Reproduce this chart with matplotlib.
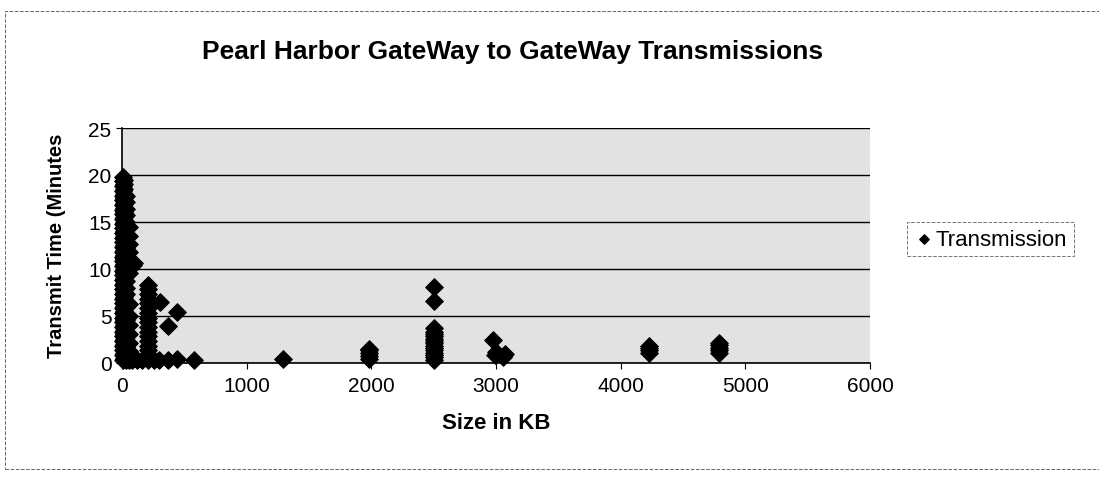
import matplotlib
matplotlib.use("Agg")
import matplotlib.pyplot as plt
from matplotlib.patches import Rectangle

plt.rcParams["font.family"] = ["Liberation Sans", "DejaVu Sans"]

# --- data (size in KB, transmit time in minutes) ---
# dense columns right at 0 KB
col0_x = [5] * 40
col0_y = [0.3, 0.8, 1.3, 1.8, 2.3, 2.8, 3.3, 3.8, 4.3, 4.8,
          5.3, 5.8, 6.3, 6.8, 7.3, 7.8, 8.3, 8.8, 9.3, 9.8,
          10.3, 10.8, 11.3, 11.8, 12.3, 12.8, 13.3, 13.8, 14.3, 14.8,
          15.3, 15.8, 16.3, 16.8, 17.3, 17.8, 18.3, 18.8, 19.3, 19.8]
col15_x = [15] * 39
col15_y = [0.5, 1.0, 1.5, 2.0, 2.5, 3.0, 3.5, 4.0, 4.5, 5.0,
           5.5, 6.0, 6.5, 7.0, 7.5, 8.0, 8.5, 9.0, 9.5, 10.0,
           10.5, 11.0, 11.5, 12.0, 12.5, 13.0, 13.5, 14.0, 14.5, 15.0,
           15.5, 16.0, 16.5, 17.0, 17.5, 18.0, 18.5, 19.0, 19.5]
col30_x = [30] * 26
col30_y = [0.3, 1.0, 1.7, 2.4, 3.1, 3.8, 4.5, 5.2, 5.9, 6.6,
           7.3, 8.0, 8.7, 9.4, 10.1, 10.8, 11.5, 12.2, 12.9, 13.6,
           14.3, 15.0, 15.7, 16.4, 17.1, 17.8]
col55_x = [55] * 14
col55_y = [0.3, 1.2, 2.1, 3.0, 4.0, 5.0, 6.2, 9.6, 10.3, 11.0,
           11.8, 12.6, 13.5, 14.5]
near_x = [90, 100, 80, 120, 160]
near_y = [10.4, 10.6, 0.3, 0.3, 0.3]
col200_x = [205] * 17
col200_y = [0.3, 0.8, 1.3, 1.8, 2.3, 2.8, 3.3, 3.8, 4.3, 4.8,
            5.3, 5.8, 6.3, 6.8, 7.3, 7.8, 8.3]
small_x = [305, 370, 442, 257, 300, 370, 440, 580, 1290]
small_y = [6.5, 3.9, 5.4, 0.3, 0.3, 0.3, 0.4, 0.3, 0.4]
kb2000_x = [1980, 1980, 1980, 1985, 1985]
kb2000_y = [0.4, 0.7, 1.0, 1.3, 1.5]
kb2500_x = [2500] * 16
kb2500_y = [0.3, 0.55, 0.8, 1.05, 1.3, 1.55, 1.8, 2.05, 2.3, 2.55,
            2.8, 3.05, 3.3, 3.7, 6.6, 8.1]
kb3000_x = [2975, 2990, 3000, 3060, 3070]
kb3000_y = [2.4, 0.8, 1.1, 0.6, 0.9]
kb4200_x = [4225, 4225, 4225, 4225]
kb4200_y = [1.0, 1.3, 1.6, 1.8]
kb4800_x = [4790, 4790, 4790, 4790, 4790]
kb4800_y = [1.0, 1.3, 1.6, 1.9, 2.1]

size_kb = (col0_x + col15_x + col30_x + col55_x + near_x + col200_x + small_x
           + kb2000_x + kb2500_x + kb3000_x + kb4200_x + kb4800_x)
minutes = (col0_y + col15_y + col30_y + col55_y + near_y + col200_y + small_y
           + kb2000_y + kb2500_y + kb3000_y + kb4200_y + kb4800_y)

x_ticks = [0, 1000, 2000, 3000, 4000, 5000, 6000]
y_ticks = [0, 5, 10, 15, 20, 25]

fig = plt.figure(figsize=(10.99, 4.85), dpi=100)
ax = fig.add_axes([0.111, 0.2503, 0.6806, 0.4837])
ax.set_facecolor("#e2e2e2")

ax.scatter(size_kb, minutes, marker="D", s=80, color="black",
           edgecolors="black", linewidths=0.8, zorder=3, clip_on=False,
           label="Transmission")

ax.set_xlim(0, 6000)
ax.set_ylim(0, 25)
ax.set_xticks(x_ticks)
ax.set_yticks(y_ticks)
ax.tick_params(labelsize=15, direction="out", length=4, width=0.8)
ax.tick_params(axis="x", pad=6)
ax.yaxis.grid(True, color="black", linewidth=1.0)
ax.set_axisbelow(True)
for side in ["top", "right"]:
    ax.spines[side].set_visible(False)
ax.spines["left"].set_linewidth(1.2)
ax.spines["bottom"].set_linewidth(1.2)

ax.set_xlabel("Size in KB", fontsize=16, fontweight="bold", labelpad=12)
ax.set_ylabel("Transmit Time (Minutes", fontsize=14.5, fontweight="bold", labelpad=16)

fig.text(0.466, 0.893, "Pearl Harbor GateWay to GateWay Transmissions",
         ha="center", va="center", fontsize=19, fontweight="bold")

leg = fig.legend(loc="center left", bbox_to_anchor=(0.825, 0.505),
                 fontsize=16, frameon=True, fancybox=False,
                 handletextpad=0.0, handlelength=1.0, markerscale=0.55,
                 borderpad=0.3, borderaxespad=0.0)
leg.get_frame().set_edgecolor("#555555")
leg.get_frame().set_linestyle("--")
leg.get_frame().set_linewidth(0.7)

# dashed outer border of the chart area
fig.patches.append(Rectangle((0.005, 0.03), 1.2, 0.945, transform=fig.transFigure,
                             fill=False, edgecolor="#666666", linestyle="--",
                             linewidth=0.7))

fig.savefig("out.png", dpi=100)
